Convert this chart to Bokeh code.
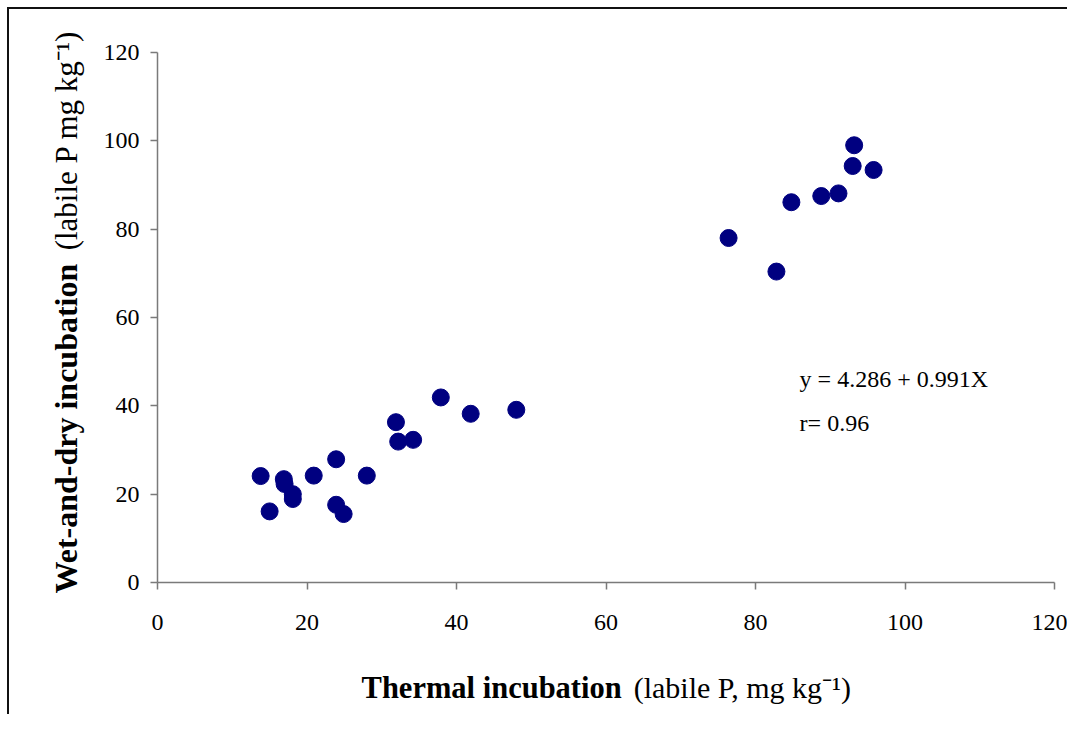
import math
from bokeh.plotting import figure
from bokeh.models import Range1d, Label, FixedTicker
from bokeh.embed import file_html
from bokeh.resources import INLINE

# Data (labile P, mg kg-1)
thermal = [13.8, 15.0, 16.9, 17.0, 18.1, 18.1, 20.9, 23.9, 23.9, 24.9, 28.0,
           31.9, 32.2, 34.2, 37.9, 41.9, 48.0,
           76.4, 82.8, 84.8, 88.8, 91.1, 93.0, 93.2, 95.8]
wet_dry = [24.1, 16.1, 23.4, 22.3, 20.0, 18.9, 24.2, 27.9, 17.6, 15.5, 24.2,
           36.3, 31.9, 32.3, 41.9, 38.2, 39.1,
           78.0, 70.4, 86.1, 87.5, 88.1, 94.3, 99.0, 93.4]
ticks = [0, 20, 40, 60, 80, 100, 120]
x_title_bold = "Thermal incubation"
x_title_rest = "(labile P, mg kg\u207b\u00b9)"
y_title_bold = "Wet-and-dry incubation"
y_title_rest = "(labile P mg kg\u207b\u00b9)"
eq_text = "y = 4.286 + 0.991X"
r_text = "r= 0.96"

SERIF = "Liberation Serif"
AXIS_COLOR = "#7a7a7a"

p = figure(width=1067, height=714, output_backend="svg", toolbar_location=None,
           x_range=Range1d(0, 120), y_range=Range1d(0, 120),
           min_border_left=157, min_border_right=13, min_border_top=52,
           min_border_bottom=132)
p.outline_line_color = None
p.xgrid.grid_line_color = None
p.ygrid.grid_line_color = None
p.background_fill_color = None
p.border_fill_color = None
p.styles = {
    "background-color": "white",
    "background-image": "linear-gradient(#111, #111), linear-gradient(#111, #111)",
    "background-size": "100% 2px, 2px 100%",
    "background-position": "7px 7px, 7px 7px",
    "background-repeat": "no-repeat",
}

for ax in (p.xaxis[0], p.yaxis[0]):
    ax.ticker = FixedTicker(ticks=ticks)
    ax.axis_line_color = AXIS_COLOR
    ax.axis_line_width = 1.5
    ax.major_tick_line_color = AXIS_COLOR
    ax.major_tick_line_width = 1.5
    ax.major_tick_out = 7
    ax.major_tick_in = 0
    ax.minor_tick_line_color = None
    ax.major_label_text_font = SERIF
    ax.major_label_text_font_size = "24px"
    ax.major_label_text_color = "black"
p.yaxis[0].major_label_standoff = 11
p.xaxis[0].major_label_standoff = 25

p.scatter(thermal, wet_dry, size=17, fill_color="#000080", line_color="#000080")


def title_part(text, x, y, size, bold, angle, side):
    p.add_layout(Label(x=x, y=y, text=text, text_font=SERIF, text_font_size=size,
                       text_font_style="bold" if bold else "normal",
                       text_color="black", angle=angle,
                       text_baseline="alphabetic", text_align="left"), side)


# axis titles (placed in side panels, positioned in data coordinates)
title_part(x_title_bold, 27.3, -23.8, "30.5px", True, 0.0, "below")
title_part(x_title_rest, 63.7, -23.8, "30px", False, 0.0, "below")
title_part(y_title_bold, -12.2, -2.5, "32px", True, math.pi / 2, "left")
title_part(y_title_rest, -12.2, 75.2, "31px", False, math.pi / 2, "left")

# regression annotation
for txt, yy in ((eq_text, 46.0), (r_text, 36.1)):
    p.add_layout(Label(x=85.9, y=yy, text=txt, text_font=SERIF,
                       text_font_size="24px", text_color="black",
                       text_baseline="alphabetic"))

open("out.html", "w").write(file_html(p, INLINE))
